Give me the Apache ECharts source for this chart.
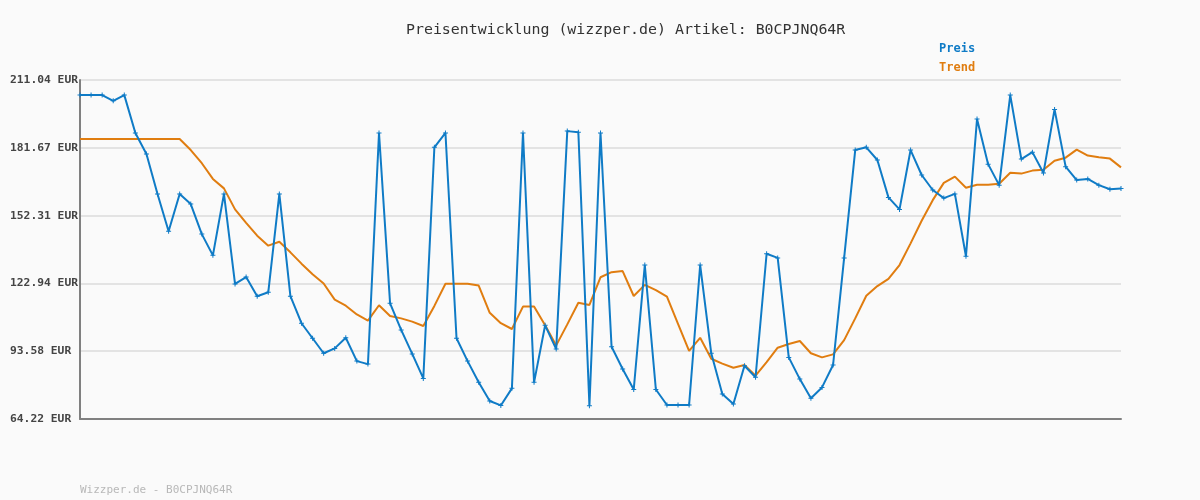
<!DOCTYPE html>
<html>
<head>
<meta charset="utf-8">
<script src="https://cdn.jsdelivr.net/npm/echarts@6/dist/echarts.min.js"></script>
<style>
html,body{margin:0;padding:0;background:#fafafa;}
#chart{width:1200px;height:500px;}
</style>
</head>
<body>
<div id="chart"></div>
<script>
const titleText = 'Preisentwicklung (wizzper.de) Artikel: B0CPJNQ64R';
const footerText = 'Wizzper.de - B0CPJNQ64R';
const seriesNames = ['Preis', 'Trend'];
const yMin = 64.22;
const yMax = 211.04;
const yTickLabels = ['64.22 EUR', '93.58 EUR', '122.94 EUR', '152.31 EUR', '181.67 EUR', '211.04 EUR'];

const preis = [
  204.5, 204.5, 204.5, 202.0, 204.5, 188.1, 179.0, 161.7, 145.5, 161.7,
  157.3, 144.3, 135.1, 161.7, 122.7, 125.7, 117.4, 119.1, 161.7, 117.4,
  105.7, 99.2, 92.7, 94.8, 99.4, 89.3, 88.0, 188.1, 114.3, 102.8,
  92.4, 81.8, 181.9, 188.1, 99.2, 89.3, 80.1, 72.0, 70.1, 77.5,
  188.1, 80.1, 104.8, 94.5, 188.9, 188.4, 70.0, 188.1, 95.5, 85.9,
  77.0, 130.9, 77.0, 70.3, 70.3, 70.3, 130.9, 92.7, 75.0, 70.7,
  87.3, 82.3, 135.8, 134.0, 90.9, 81.5, 73.2, 77.9, 87.6, 134.0,
  180.7, 181.9, 176.4, 160.2, 155.0, 180.7, 169.9, 163.4, 159.9, 161.7,
  134.7, 194.1, 174.6, 165.5, 204.5, 176.8, 179.8, 170.8, 198.3, 173.5,
  167.7, 168.2, 165.5, 163.7, 164.1
];

const trend = [
  185.5, 185.5, 185.5, 185.5, 185.5, 185.5, 185.5, 185.5, 185.5, 185.5,
  180.7, 175.0, 168.2, 164.1, 155.0, 149.2, 143.6, 139.3, 141.0, 136.4,
  131.5, 126.9, 122.9, 115.9, 113.3, 109.5, 106.8, 113.5, 108.8, 107.8,
  106.4, 104.5, 113.2, 122.8, 122.8, 122.8, 122.0, 110.2, 105.7, 103.2,
  112.9, 112.9, 104.8, 96.1, 105.2, 114.6, 113.6, 125.6, 127.8, 128.3,
  117.5, 122.3, 120.0, 117.2, 105.4, 93.7, 99.4, 90.3, 88.2, 86.4,
  87.6, 83.0, 88.9, 95.1, 96.7, 98.0, 92.7, 90.9, 92.2, 98.4,
  107.8, 117.6, 121.8, 124.9, 130.9, 140.3, 150.1, 159.0, 166.5, 169.2,
  164.4, 165.7, 165.7, 166.1, 170.9, 170.5, 171.8, 172.2, 176.1, 177.4,
  180.9, 178.3, 177.6, 177.0, 173.2
];

const categories = preis.map((_, i) => String(i + 1));

const blue = '#0f7bc6';
const orange = '#e07d10';
const mono = '"DejaVu Sans Mono", "Liberation Mono", monospace';

const chart = echarts.init(document.getElementById('chart'));
chart.setOption({
  backgroundColor: '#fafafa',
  animation: false,
  title: [
    {
      text: titleText,
      left: 401,
      top: 18,
      textStyle: { fontFamily: mono, fontSize: 14.9, fontWeight: 'normal', color: '#333' }
    },
    {
      text: footerText,
      left: 75,
      top: 480,
      textStyle: { fontFamily: mono, fontSize: 11, fontWeight: 'normal', color: '#b8b8b8' }
    }
  ],
  legend: {
    orient: 'vertical',
    left: 929,
    top: 37,
    itemWidth: 0,
    itemHeight: 14,
    itemGap: 6,
    icon: 'none',
    selectedMode: false,
    data: [
      { name: seriesNames[0], textStyle: { color: blue } },
      { name: seriesNames[1], textStyle: { color: orange } }
    ],
    textStyle: { fontFamily: mono, fontSize: 12, fontWeight: 'bold', padding: 0 }
  },
  grid: { left: 80, right: 79, top: 80, bottom: 81 },
  xAxis: {
    type: 'category',
    data: categories,
    boundaryGap: false,
    axisLine: { show: true, lineStyle: { color: '#808080', width: 2 } },
    axisTick: { show: false },
    axisLabel: { show: false },
    splitLine: { show: false }
  },
  yAxis: [
    {
      type: 'value',
      min: yMin,
      max: yMax,
      show: false,
      splitLine: { show: false }
    },
    {
      type: 'value',
      min: 0,
      max: yTickLabels.length - 1,
      interval: 1,
      position: 'left',
      axisLine: { show: true, lineStyle: { color: '#808080', width: 2 } },
      axisTick: { show: false },
      splitLine: { show: true, lineStyle: { color: '#e3e3e3', width: 2 } },
      axisLabel: {
        margin: 70,
        align: 'left',
        fontFamily: mono,
        fontSize: 11.3,
        fontWeight: 'bold',
        color: '#444',
        formatter: v => yTickLabels[Math.round(v)]
      }
    }
  ],
  series: [
    {
      name: seriesNames[1],
      type: 'line',
      yAxisIndex: 0,
      data: trend,
      showSymbol: false,
      symbol: 'none',
      lineStyle: { color: orange, width: 2 },
      itemStyle: { color: orange },
      z: 2
    },
    {
      name: seriesNames[0],
      type: 'line',
      yAxisIndex: 0,
      data: preis,
      symbol: 'path://M2,0H3V2H5V3H3V5H2V3H0V2H2Z',
      symbolSize: 5,
      showAllSymbol: true,
      lineStyle: { color: blue, width: 2 },
      itemStyle: { color: blue },
      z: 3
    }
  ]
});
</script>
</body>
</html>
